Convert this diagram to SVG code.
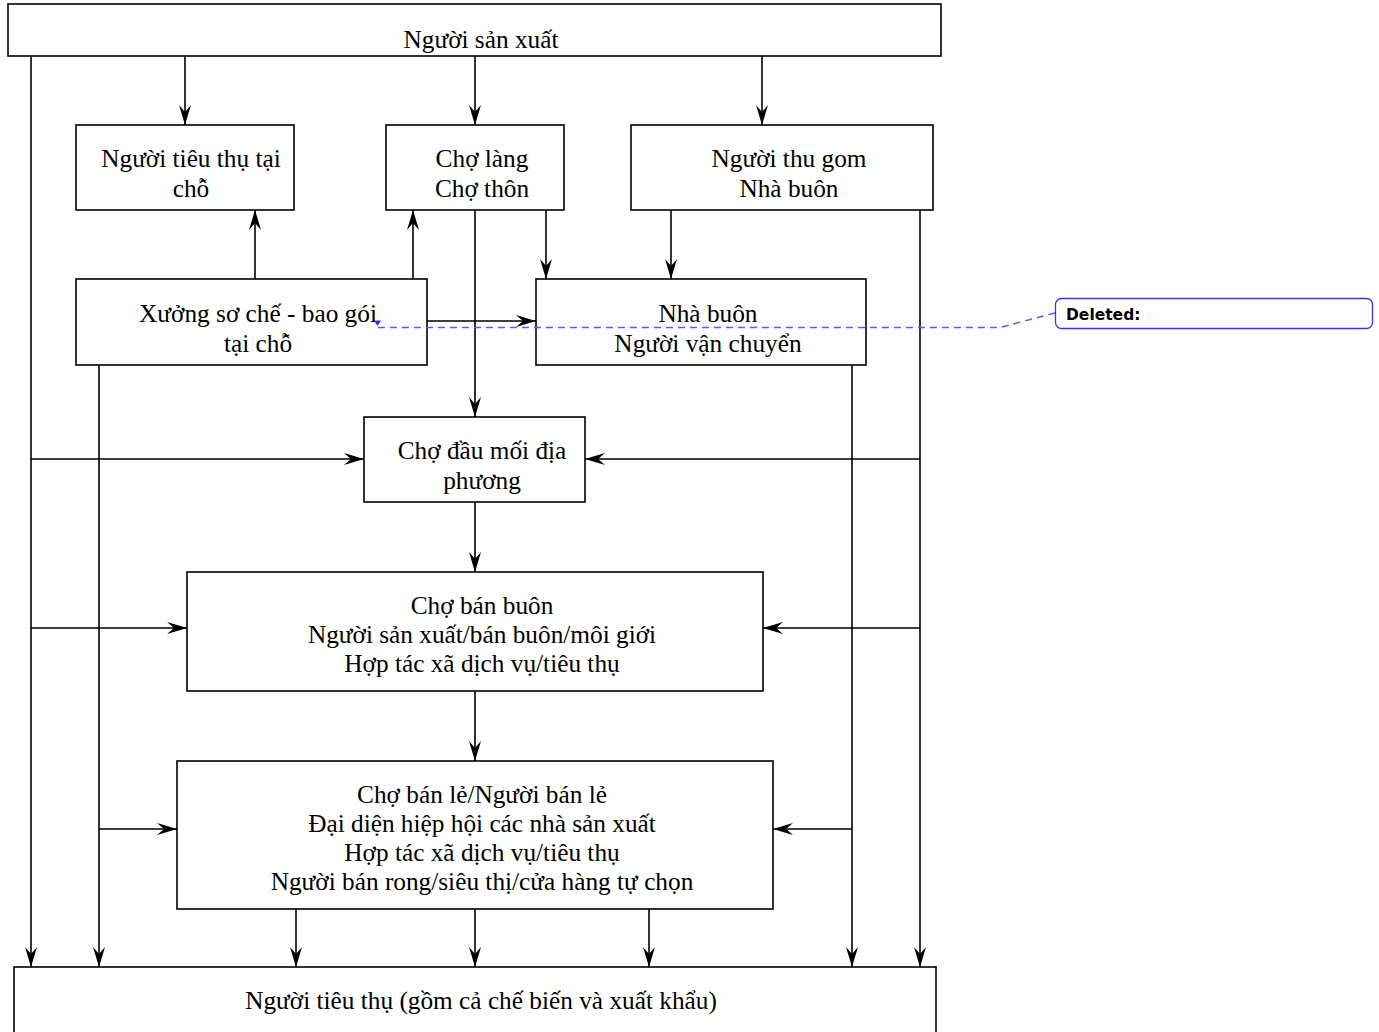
<svg xmlns="http://www.w3.org/2000/svg" width="1379" height="1032" viewBox="0 0 1379 1032">
  <style>
    .box { fill: #ffffff; stroke: #000000; stroke-width: 1.6; }
    .lbl { font-family: "Liberation Serif", "Times New Roman", serif; font-size: 25.3px; fill: #000000; text-anchor: middle; }
    .wire { fill: none; stroke: #000000; stroke-width: 1.6; }
    .arr { marker-end: url(#head); }
    .note { fill: #ffffff; stroke: #3333ff; stroke-width: 1.3; }
    .notetxt { font-family: "DejaVu Sans", Verdana, sans-serif; font-size: 15.5px; font-weight: bold; fill: #000000; }
    .dash { fill: none; stroke: #5a5aff; stroke-width: 1.5; stroke-dasharray: 7 5; }
  </style>
  <defs>
    <marker id="head" viewBox="0 0 20 12" refX="20" refY="6" markerWidth="20" markerHeight="12" markerUnits="userSpaceOnUse" orient="auto">
      <path d="M0,0 L20,6 L0,12 L7,6 Z" fill="#000000"/>
    </marker>
  </defs>
  <rect width="1379" height="1032" fill="#ffffff"/>

  <!-- connectors -->
  <g id="connectors">
    <!-- producer fan-out -->
    <line class="wire arr" x1="31" y1="56" x2="31" y2="967"/>
    <line class="wire arr" x1="185" y1="56" x2="185" y2="125"/>
    <line class="wire arr" x1="475" y1="56" x2="475" y2="125"/>
    <line class="wire arr" x1="762" y1="56" x2="762" y2="125"/>
    <line class="wire arr" x1="31" y1="459" x2="364" y2="459"/>
    <line class="wire arr" x1="31" y1="628" x2="187" y2="628"/>
    <!-- processing workshop -->
    <line class="wire arr" x1="255" y1="279" x2="255" y2="210"/>
    <line class="wire arr" x1="413" y1="279" x2="413" y2="210"/>
    <line class="wire arr" x1="427" y1="321" x2="536" y2="321"/>
    <line class="wire arr" x1="99" y1="365" x2="99" y2="967"/>
    <line class="wire arr" x1="99" y1="829" x2="177" y2="829"/>
    <!-- village market -->
    <line class="wire arr" x1="475" y1="210" x2="475" y2="417"/>
    <line class="wire arr" x1="546" y1="210" x2="546" y2="279"/>
    <!-- collectors -->
    <line class="wire arr" x1="671" y1="210" x2="671" y2="279"/>
    <line class="wire arr" x1="920" y1="210" x2="920" y2="967"/>
    <line class="wire arr" x1="920" y1="459" x2="585" y2="459"/>
    <line class="wire arr" x1="920" y1="628" x2="763" y2="628"/>
    <!-- traders / transporters -->
    <line class="wire arr" x1="852" y1="365" x2="852" y2="967"/>
    <line class="wire arr" x1="852" y1="829" x2="773" y2="829"/>
    <!-- main chain -->
    <line class="wire arr" x1="475" y1="502" x2="475" y2="572"/>
    <line class="wire arr" x1="475" y1="691" x2="475" y2="761"/>
    <line class="wire arr" x1="296" y1="909" x2="296" y2="967"/>
    <line class="wire arr" x1="475" y1="909" x2="475" y2="967"/>
    <line class="wire arr" x1="649" y1="909" x2="649" y2="967"/>
  </g>

  <g id="n-producer">
    <rect class="box" x="8" y="4" width="933" height="52"/>
    <text class="lbl" x="481" y="48">Người sản xuất</text>
  </g>
  <g id="n-local-consumer">
    <rect class="box" x="76" y="125" width="218" height="85"/>
    <text class="lbl" x="191" y="167">Người tiêu thụ tại</text>
    <text class="lbl" x="191" y="197">chỗ</text>
  </g>
  <g id="n-village-market">
    <rect class="box" x="386" y="125" width="178" height="85"/>
    <text class="lbl" x="482" y="167">Chợ làng</text>
    <text class="lbl" x="482" y="197">Chợ thôn</text>
  </g>
  <g id="n-collector">
    <rect class="box" x="631" y="125" width="302" height="85"/>
    <text class="lbl" x="789" y="167">Người thu gom</text>
    <text class="lbl" x="789" y="197">Nhà buôn</text>
  </g>
  <g id="n-workshop">
    <rect class="box" x="76" y="279" width="351" height="86"/>
    <text class="lbl" x="258" y="322">Xưởng sơ chế - bao gói</text>
    <text class="lbl" x="258" y="352">tại chỗ</text>
  </g>
  <g id="n-trader">
    <rect class="box" x="536" y="279" width="330" height="86"/>
    <text class="lbl" x="708" y="322">Nhà buôn</text>
    <text class="lbl" x="708" y="352">Người vận chuyển</text>
  </g>
  <g id="n-hub-market">
    <rect class="box" x="364" y="417" width="221" height="85"/>
    <text class="lbl" x="482" y="459">Chợ đầu mối địa</text>
    <text class="lbl" x="482" y="489">phương</text>
  </g>
  <g id="n-wholesale">
    <rect class="box" x="187" y="572" width="576" height="119"/>
    <text class="lbl" x="482" y="614">Chợ bán buôn</text>
    <text class="lbl" x="482" y="643">Người sản xuất/bán buôn/môi giới</text>
    <text class="lbl" x="482" y="672">Hợp tác xã dịch vụ/tiêu thụ</text>
  </g>
  <g id="n-retail">
    <rect class="box" x="177" y="761" width="596" height="148"/>
    <text class="lbl" x="482" y="803">Chợ bán lẻ/Người bán lẻ</text>
    <text class="lbl" x="482" y="832">Đại diện hiệp hội các nhà sản xuất</text>
    <text class="lbl" x="482" y="861">Hợp tác xã dịch vụ/tiêu thụ</text>
    <text class="lbl" x="482" y="890">Người bán rong/siêu thị/cửa hàng tự chọn</text>
  </g>
  <g id="n-consumer">
    <rect class="box" x="14" y="967" width="922" height="80"/>
    <text class="lbl" x="481" y="1009">Người tiêu thụ (gồm cả chế biến và xuất khẩu)</text>
  </g>

  <!-- revision balloon -->
  <g id="revision-note">
    <path class="dash" d="M378,327.5 H1000 L1055,313"/>
    <path d="M374,320.5 L381,320.5 L377.5,326 Z" fill="#2a2aff"/>
    <rect class="note" x="1055.5" y="298.5" width="317" height="30" rx="6"/>
    <text class="notetxt" x="1066" y="320">Deleted:</text>
  </g>
</svg>
